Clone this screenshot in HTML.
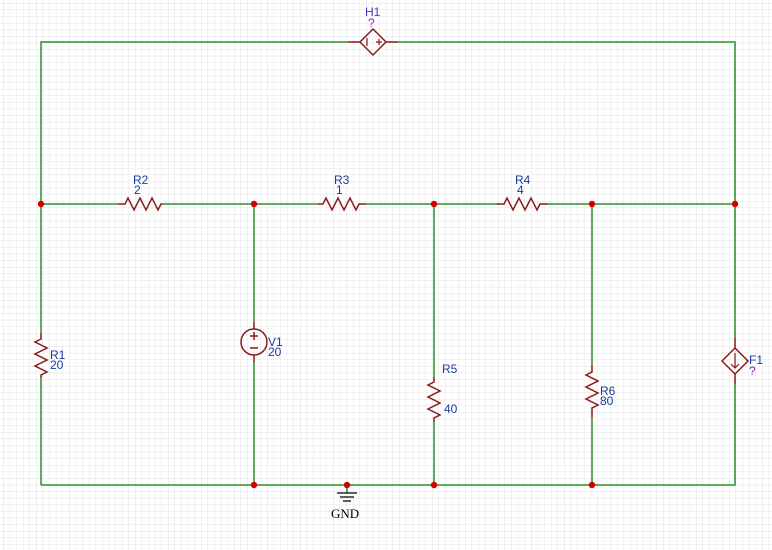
<!DOCTYPE html>
<html><head><meta charset="utf-8"><style>
html,body{margin:0;padding:0;background:#fff;width:772px;height:550px;overflow:hidden}
svg text{font-family:"Liberation Sans",sans-serif;font-size:12px}
</style></head><body>
<svg id="s" width="772" height="550" viewBox="0 0 772 550">
<defs><pattern id="g" width="6.6" height="6.6" patternUnits="userSpaceOnUse" x="3" y="3"><path d="M0 0H6.6M0 0V6.6" stroke="#e2e2e2" stroke-width="1" fill="none"/></pattern></defs>
<rect width="772" height="550" fill="url(#g)"/>
<g stroke="#2e8f2e" stroke-width="1.5" fill="none">
<path d="M41 485V378M41 333V42H348M398 42H735V338M735 384V485H41"/>
<path d="M41 204H118M162 204H318M366 204H498M548 204H735"/>
<path d="M254 204V322M254 362V485"/>
<path d="M434 204V377M434 422V485"/>
<path d="M592 204V366M592 417V485"/>
<path d="M347 485V493"/>
</g>
<g stroke="#8b1a1a" stroke-width="1.5" fill="none">
<path d="M118 204H125L128 198L134 210L140 198L146 210L152 198L158 210L161 204H162"/>
<path d="M318 204H323L326 198L332 210L338 198L344 210L350 198L356 210L359 204H366"/>
<path d="M497 204H504L507 198L513 210L519 198L525 210L531 198L537 210L540 204H548"/>
<path d="M41 333V339L35 342L47 348L35 354L47 360L35 366L47 372L41 375V378"/>
<path d="M434 377V382L428 385L440 391L428 397L440 403L428 409L440 415L434 418V422"/>
<path d="M592 366V372L586 375L598 381L586 387L598 393L586 399L598 405L592 408V417"/>
<g><path d="M254 322V329M254 355V362"/><circle cx="254" cy="342" r="13"/><path d="M250 336H258M254 332V340M250 348H258"/></g>
<g><path d="M348 42H360M386 42H398M373 29L386 42L373 55L360 42Z"/><path d="M367 38V46M376 42H382M379 39V45" stroke-width="1.2"/></g>
<g><path d="M735 338V348M735 374V384M735 348L748 361L735 374L722 361Z"/><path d="M735 353V368M731 364L735 368L739 364" stroke-width="1.2"/></g>
</g>
<g stroke="#000" stroke-width="1.3"><path d="M337 493H357M340 497H354M343 501H351"/></g>
<g fill="#d40000">
<circle cx="41" cy="204" r="3.2"/><circle cx="254" cy="204" r="3.2"/><circle cx="434" cy="204" r="3.2"/><circle cx="592" cy="204" r="3.2"/><circle cx="735" cy="204" r="3.2"/>
<circle cx="254" cy="485" r="3.2"/><circle cx="347" cy="485" r="3.2"/><circle cx="434" cy="485" r="3.2"/><circle cx="592" cy="485" r="3.2"/>
</g>
<g fill="#1a3aa0">
<text x="365" y="16" fill="#3a3ac0">H1</text>
<text x="368" y="27" fill="#8a2ab0">?</text>
<text x="133" y="184">R2</text><text x="134" y="194">2</text>
<text x="334" y="184">R3</text><text x="336" y="194">1</text>
<text x="515" y="184">R4</text><text x="517" y="194">4</text>
<text x="50" y="359">R1</text><text x="50" y="369">20</text>
<text x="268" y="346">V1</text><text x="268" y="356">20</text>
<text x="442" y="373">R5</text><text x="444" y="413">40</text>
<text x="600" y="395">R6</text><text x="600" y="405">80</text>
<text x="749" y="364">F1</text><text x="749" y="375" fill="#8a2ab0">?</text>
<text x="331" y="518" fill="#000" style="font-family:'Liberation Serif',serif;font-size:13px">GND</text>
</g>
</svg>
</body></html>
